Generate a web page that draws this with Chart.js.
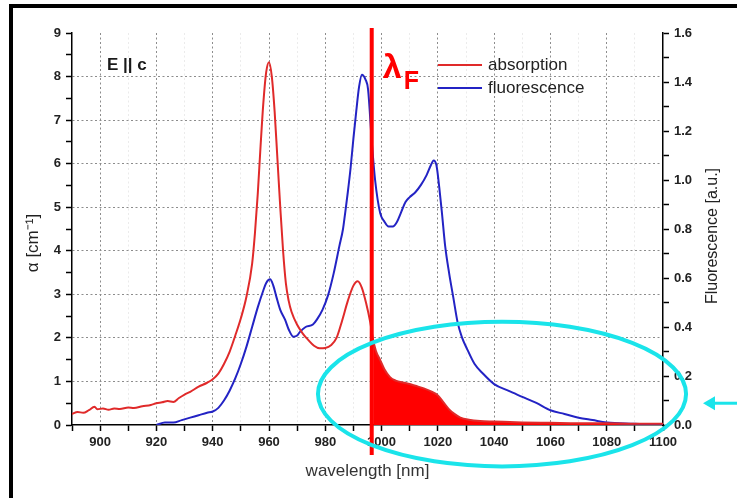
<!DOCTYPE html>
<html>
<head>
<meta charset="utf-8">
<title>Absorption and fluorescence, E || c</title>
<script src="https://cdn.jsdelivr.net/npm/chart.js@4.4.1/dist/chart.umd.min.js"></script>
<style>
  html, body { margin: 0; padding: 0; background: #fff; overflow: hidden; }
  #wrap { position: relative; width: 737px; height: 498px; }
  #wrap canvas { position: absolute; left: 0; top: 0; }
  /* thick black frame of the original figure (only top and left are visible) */
  #frame { position: absolute; left: 9px; top: 4px; right: -10px; bottom: -10px;
           border-left: 4px solid #000; border-top: 4px solid #000; pointer-events: none; }
</style>
</head>
<body>
<div id="wrap">
  <canvas id="spectrumChart" width="737" height="498"></canvas>
  <div id="frame"></div>
</div>
<script>
/* -------------------------
   absorption (alpha, cm^-1) vs wavelength
------------------------- */
const absWl = [
  890, 892, 894, 896, 898, 899, 901, 903, 905, 907,
  910, 912, 915, 918, 920, 922, 924, 926, 928, 930,
  932, 935, 938, 940, 942, 944, 946, 948, 950, 952,
  954, 955, 956, 957, 958, 959, 960, 961, 962, 963,
  964, 965, 966, 967, 968, 970, 972, 974, 976, 978,
  980, 982, 984, 986, 988, 990, 991.5, 993, 994.5, 996,
  997, 998, 999.5, 1001, 1003, 1005, 1008, 1010, 1012, 1015,
  1018, 1020, 1022, 1024, 1026, 1028, 1031, 1035, 1040, 1050,
  1060, 1070, 1080, 1090, 1100
];
const absVal = [
  0.25, 0.30, 0.28, 0.34, 0.42, 0.36, 0.38, 0.35, 0.38, 0.37,
  0.40, 0.39, 0.43, 0.46, 0.50, 0.52, 0.55, 0.53, 0.62, 0.70,
  0.76, 0.88, 0.97, 1.05, 1.18, 1.40, 1.68, 2.05, 2.45, 2.95,
  3.70, 4.40, 5.30, 6.40, 7.40, 8.10, 8.33, 8.00, 7.20, 6.10,
  5.00, 4.00, 3.25, 2.85, 2.60, 2.30, 2.10, 1.95, 1.82, 1.76,
  1.77, 1.83, 2.00, 2.40, 2.85, 3.20, 3.30, 3.15, 2.80, 2.35,
  1.95, 1.70, 1.49, 1.28, 1.10, 1.02, 0.97, 0.94, 0.90, 0.84,
  0.76, 0.68, 0.52, 0.36, 0.25, 0.17, 0.12, 0.09, 0.08, 0.06,
  0.05, 0.04, 0.04, 0.03, 0.03
];

/* -------------------------
   fluorescence (a.u.) vs wavelength
------------------------- */
const fluWl = [
  920, 923, 926, 929, 932, 935, 938, 940, 942, 944,
  946, 948, 950, 952, 954, 956, 958, 959, 960.4, 961.5,
  962.7, 964, 965.7, 967, 968.7, 970, 971, 973, 975.6, 977,
  979, 981, 983, 985, 986.3, 987, 988, 989, 990, 991,
  992, 993, 994.3, 995.2, 996.5, 997.7, 999.5, 1001, 1002.5, 1004,
  1005.5, 1007, 1008.5, 1010, 1012, 1014, 1016, 1017.5, 1018.5, 1019.5,
  1020.5, 1021.5, 1022.6, 1024, 1025.5, 1027, 1028.5, 1030.4, 1033, 1036,
  1040, 1045, 1050, 1055, 1060, 1065, 1070, 1075, 1080, 1090,
  1100
];
const fluVal = [
  0.00, 0.01, 0.01, 0.02, 0.03, 0.04, 0.05, 0.055, 0.07, 0.10,
  0.14, 0.19, 0.25, 0.32, 0.40, 0.48, 0.55, 0.58, 0.595, 0.57,
  0.52, 0.47, 0.43, 0.39, 0.36, 0.365, 0.38, 0.40, 0.41, 0.43,
  0.47, 0.53, 0.62, 0.73, 0.80, 0.86, 0.95, 1.05, 1.17, 1.28,
  1.38, 1.43, 1.41, 1.37, 1.16, 1.00, 0.865, 0.83, 0.81, 0.81,
  0.83, 0.87, 0.91, 0.93, 0.95, 0.98, 1.02, 1.06, 1.08, 1.06,
  0.97, 0.86, 0.73, 0.62, 0.52, 0.42, 0.36, 0.31, 0.25, 0.21,
  0.167, 0.14, 0.115, 0.09, 0.06, 0.045, 0.03, 0.02, 0.01, 0.005,
  0.00
];

// laser / fluorescence cut wavelength (nm)
const lambdaF = 996.5;

const FONT = '"Liberation Sans", Arial, sans-serif';

const toPoints = (xs, ys) => xs.map((x, i) => ({ x: x, y: ys[i] }));
const absPoints = toPoints(absWl, absVal);
const tailPoints = absPoints.filter(p => p.x >= lambdaF);

// lambda_F marker, legend, labels, ellipse and arrow drawn on top
const overlay = {
  id: 'overlay',
  afterDraw(chart) {
    const { ctx, chartArea, scales: { x, y } } = chart;
    ctx.save();

    // vertical lambda_F line
    const lx = x.getPixelForValue(lambdaF);
    ctx.strokeStyle = '#ff0000';
    ctx.lineWidth = 4;
    ctx.beginPath();
    ctx.moveTo(lx, chartArea.top - 5);
    ctx.lineTo(lx, chartArea.bottom + 30);
    ctx.stroke();

    ctx.fillStyle = '#ff0000';
    ctx.textBaseline = 'alphabetic';
    ctx.textAlign = 'left';
    ctx.font = 'bold 34px ' + FONT;
    ctx.fillText('λ', lx + 11, 78);
    ctx.font = 'bold 25px ' + FONT;
    ctx.fillText('F', lx + 32, 89);

    // "E || c"
    ctx.fillStyle = '#1a1a1a';
    ctx.font = 'bold 17px ' + FONT;
    ctx.fillText('E || c', 107, 70);

    // legend
    ctx.font = '17px ' + FONT;
    ctx.textBaseline = 'middle';
    [0, 1].forEach((k, i) => {
      const ds = chart.data.datasets[k];
      const ly = 65 + i * 23;
      ctx.strokeStyle = ds.borderColor;
      ctx.lineWidth = 2;
      ctx.beginPath();
      ctx.moveTo(438, ly);
      ctx.lineTo(482, ly);
      ctx.stroke();
      ctx.fillStyle = '#222';
      ctx.fillText(ds.label, 488, ly);
    });

    // y axis titles (both read bottom-to-top)
    ctx.textAlign = 'center';
    ctx.fillStyle = '#222';
    ctx.save();
    ctx.translate(33, 243);
    ctx.rotate(-Math.PI / 2);
    ctx.font = '17px ' + FONT;
    ctx.fillText('α [cm⁻¹]', 0, 0);
    ctx.restore();
    ctx.save();
    ctx.translate(713, 236);
    ctx.rotate(-Math.PI / 2);
    ctx.font = '16px ' + FONT;
    ctx.fillText('Fluorescence [a.u.]', 0, 0);
    ctx.restore();

    // cyan ellipse around the re-absorption tail
    const cx = x.getPixelForValue(1042.8);
    const cy = y.getPixelForValue(0.71);
    const rx = x.getPixelForValue(1042.8 + 65.4) - cx;
    const ry = cy - y.getPixelForValue(0.71 + 1.66);
    ctx.strokeStyle = '#1ae4ea';
    ctx.lineWidth = 4;
    ctx.beginPath();
    ctx.ellipse(cx, cy, rx, ry, 0, 0, Math.PI * 2);
    ctx.stroke();

    // arrow pointing at the ellipse
    const ay = y.getPixelForValue(0.5);
    const tip = chartArea.right + 40;
    ctx.lineWidth = 3;
    ctx.beginPath();
    ctx.moveTo(chart.width, ay);
    ctx.lineTo(tip + 8, ay);
    ctx.stroke();
    ctx.fillStyle = '#1ae4ea';
    ctx.beginPath();
    ctx.moveTo(tip, ay);
    ctx.lineTo(tip + 12, ay - 7);
    ctx.lineTo(tip + 12, ay + 7);
    ctx.closePath();
    ctx.fill();

    ctx.restore();
  }
};

const gridGrey = '#8c8c8c';
const ctx = document.getElementById('spectrumChart').getContext('2d');
new Chart(ctx, {
  type: 'line',
  data: {
    datasets: [{
      label: 'absorption',
      data: absPoints,
      borderColor: '#e02a2a',
      borderWidth: 2,
      pointRadius: 0,
      cubicInterpolationMode: 'monotone',
      yAxisID: 'y'
    }, {
      label: 'fluorescence',
      data: toPoints(fluWl, fluVal),
      borderColor: '#2323c4',
      borderWidth: 2,
      pointRadius: 0,
      cubicInterpolationMode: 'monotone',
      yAxisID: 'y2'
    }, {
      label: '',
      data: tailPoints,
      borderWidth: 0,
      borderColor: 'rgba(0,0,0,0)',
      backgroundColor: '#ff0000',
      pointRadius: 0,
      cubicInterpolationMode: 'monotone',
      fill: 'origin',
      yAxisID: 'y'
    }]
  },
  options: {
    responsive: false,
    animation: false,
    layout: { padding: { top: 33, left: 0, right: 0, bottom: 0 } },
    scales: {
      x: {
        type: 'linear',
        min: 890,
        max: 1100,
        afterFit: s => { s.height = 73; },
        ticks: {
          stepSize: 10,
          autoSkip: false,
          maxRotation: 0,
          padding: 4,
          color: '#222',
          font: { family: FONT, size: 13, weight: 'bold' },
          callback: v => (v % 20 === 0 ? v : '')
        },
        grid: {
          color: c => {
            const v = c.tick ? c.tick.value : 0;
            if (v <= 890 || v >= 1100) return 'rgba(0,0,0,0)';
            return v % 20 === 0 ? gridGrey : 'rgba(0,0,0,0.08)';
          },
          tickColor: '#000',
          tickLength: 6,
          tickWidth: 1.5,
          tickBorderDash: []
        },
        border: { color: '#000', width: 1.5, dash: [2, 2.5] },
        title: {
          display: true,
          text: 'wavelength [nm]',
          color: '#333',
          font: { family: FONT, size: 17 },
          padding: { top: 0, bottom: 16 }
        }
      },
      y: {
        position: 'left',
        min: 0,
        max: 9,
        afterFit: s => { s.width = 72; },
        ticks: {
          stepSize: 0.5,
          autoSkip: false,
          padding: 5,
          color: '#222',
          font: { family: FONT, size: 13, weight: 'bold' },
          callback: v => (Number.isInteger(v) ? v : '')
        },
        grid: {
          color: c => {
            const v = c.tick ? c.tick.value : 0;
            return Number.isInteger(v) && v > 0 && v < 9 ? gridGrey : 'rgba(0,0,0,0)';
          },
          tickColor: '#000',
          tickLength: 6,
          tickWidth: 1.5,
          tickBorderDash: []
        },
        border: { color: '#000', width: 1.5, dash: [2, 2.5] }
      },
      y2: {
        position: 'right',
        min: 0,
        max: 1.6,
        afterFit: s => { s.width = 74; },
        ticks: {
          stepSize: 0.1,
          autoSkip: false,
          padding: 5,
          color: '#222',
          font: { family: FONT, size: 13, weight: 'bold' },
          callback: v => (Math.round(v * 10) % 2 === 0 ? v.toFixed(1) : '')
        },
        grid: {
          drawOnChartArea: false,
          tickColor: '#000',
          tickLength: 6,
          tickWidth: 1.5
        },
        border: { color: '#000', width: 1.5 }
      }
    },
    plugins: {
      legend: { display: false },
      tooltip: { enabled: false }
    }
  },
  plugins: [overlay]
});
</script>
</body>
</html>
